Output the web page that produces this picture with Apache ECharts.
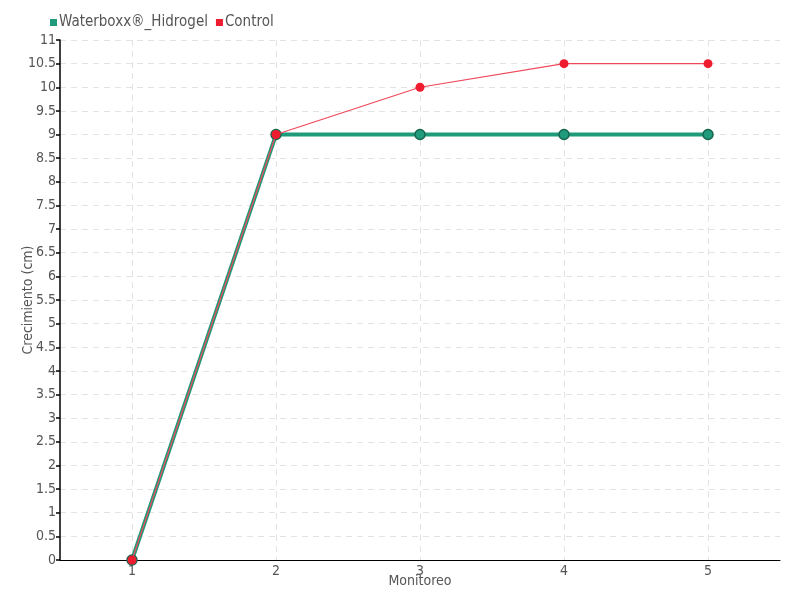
<!DOCTYPE html>
<html><head><meta charset="utf-8">
<script src="https://cdn.jsdelivr.net/npm/echarts@6/dist/echarts.min.js"></script>
<style>html,body{margin:0;padding:0;background:#fff}#c{width:800px;height:600px}</style>
</head><body><div id="c"></div>
<script>
const categories = ['1', '2', '3', '4', '5'];
const waterboxx = [0, 9, 9, 9, 9];
const control = [0, 9, 10, 10.5, 10.5];
const FONT = '"Liberation Sans Narrow", "DejaVu Sans Condensed", sans-serif';
const chart = echarts.init(document.getElementById('c'));
chart.setOption({
  animation: false,
  textStyle: { fontFamily: FONT },
  legend: {
    left: 45, top: 10, itemWidth: 7, itemHeight: 7, itemGap: 8,
    icon: 'rect',
    itemStyle: { borderWidth: 0 },
    textStyle: { fontFamily: FONT, fontSize: 15, color: '#555', padding: [0, 0, 0, -3] },
    data: ['Waterboxx®_Hidrogel', 'Control']
  },
  grid: { left: 60, right: 20, top: 40, bottom: 40, containLabel: false, outerBoundsMode: 'none' },
  xAxis: {
    type: 'category', data: categories, boundaryGap: true,
    name: 'Monitoreo', nameLocation: 'middle', nameGap: 14, nameMoveOverlap: false,
    nameTextStyle: { fontFamily: FONT, fontSize: 14, color: '#555' },
    axisLine: { lineStyle: { color: '#000', width: 1 } },
    axisTick: { alignWithLabel: true, length: 5, lineStyle: { color: '#000' } },
    axisLabel: { fontFamily: FONT, fontSize: 14, color: '#555', margin: 4 },
    splitLine: { show: true, alignWithLabel: true, lineStyle: { color: '#e3e3e3', type: [6, 5] } }
  },
  yAxis: {
    type: 'value', min: 0, max: 11, interval: 0.5,
    name: 'Crecimiento (cm)', nameLocation: 'middle', nameGap: 25, nameMoveOverlap: false,
    nameTextStyle: { fontFamily: FONT, fontSize: 14, color: '#555' },
    axisLine: { show: true, lineStyle: { color: '#000', width: 1.5 } },
    axisTick: { show: true, length: 4, lineStyle: { color: '#000', width: 1.5 } },
    axisLabel: { fontFamily: FONT, fontSize: 14, color: '#555', margin: 4 },
    splitLine: { show: true, lineStyle: { color: '#e3e3e3', type: [6, 5] } }
  },
  series: [
    {
      name: 'Waterboxx®_Hidrogel', type: 'line', data: waterboxx,
      color: '#1f9a7b',
      symbol: 'circle', symbolSize: 10,
      lineStyle: { width: 4, color: '#1f9a7b' },
      itemStyle: { color: '#1f9a7b', borderColor: '#17664f', borderWidth: 1.5 },
      z: 2
    },
    {
      name: 'Control', type: 'line', data: control,
      color: '#ee1c2e',
      symbol: 'circle', symbolSize: 9,
      lineStyle: { width: 1.2, color: '#f0485a' },
      itemStyle: { color: '#ee1c2e' },
      z: 3
    }
  ]
});
</script></body></html>
